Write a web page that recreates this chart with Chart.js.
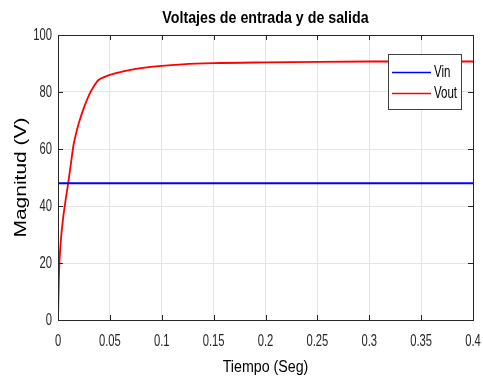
<!DOCTYPE html>
<html>
<head>
<meta charset="utf-8">
<script src="https://cdn.jsdelivr.net/npm/chart.js@4"></script>
<style>
  html, body { margin: 0; padding: 0; background: #fff; }
  #wrap { width: 483px; height: 381px; }
</style>
</head>
<body>
<div id="wrap"><canvas id="voltChart" width="483" height="381"></canvas></div>
<script>
// Vin is a constant 48 V input
const vinTime = [0, 0.4];
const vinValues = [48, 48];

// Vout
const voutTime = [0, 0.0008, 0.0015, 0.003, 0.005, 0.0075, 0.01, 0.0125, 0.015, 0.0175, 0.02,
    0.025, 0.03, 0.035, 0.039, 0.045, 0.05, 0.06, 0.07, 0.08, 0.1, 0.12, 0.15, 0.2, 0.25, 0.3, 0.35, 0.4];
const voutValues = [0, 14, 21, 29, 36, 42.5, 48.5, 55, 61.5, 65.5, 69,
    74.5, 79, 82.3, 84.2, 85.3, 86, 87, 87.8, 88.4, 89.2, 89.7, 90.1, 90.4, 90.6, 90.7, 90.7, 90.7];

const xTicks = [0, 0.05, 0.1, 0.15, 0.2, 0.25, 0.3, 0.35, 0.4];
const yTicks = [0, 20, 40, 60, 80, 100];
const seriesLabels = ['Vin', 'Vout'];
const seriesColors = ['#0000ff', '#ff0000'];

const FONT = "'Liberation Sans', Arial, sans-serif";

function toPoints(xs, ys) {
    return xs.map((x, i) => ({ x: x, y: ys[i] }));
}

// squeezed text, the original figure looks horizontally compressed
function drawText(ctx, text, x, y, font, sx, align, rot) {
    ctx.save();
    ctx.translate(x, y);
    ctx.scale(sx, 1);
    if (rot) ctx.rotate(rot);
    ctx.font = font;
    ctx.textAlign = align;
    ctx.textBaseline = 'middle';
    ctx.fillText(text, 0, 0);
    ctx.restore();
}

// Box, inward ticks, labels, title and legend in MATLAB style
const matlabLook = {
    id: 'matlabLook',
    afterDraw(chart) {
        const ctx = chart.ctx;
        const a = chart.chartArea;
        const xs = chart.scales.x, ys = chart.scales.y;
        ctx.save();
        ctx.strokeStyle = '#262626';
        ctx.lineWidth = 1;
        ctx.beginPath();
        xTicks.forEach(t => {
            const px = Math.round(xs.getPixelForValue(t)) + 0.5;
            ctx.moveTo(px, a.bottom); ctx.lineTo(px, a.bottom - 5);
            ctx.moveTo(px, a.top); ctx.lineTo(px, a.top + 5);
        });
        yTicks.forEach(t => {
            const py = Math.round(ys.getPixelForValue(t)) + 0.5;
            ctx.moveTo(a.left, py); ctx.lineTo(a.left + 5, py);
            ctx.moveTo(a.right, py); ctx.lineTo(a.right - 5, py);
        });
        ctx.stroke();
        ctx.strokeRect(Math.round(a.left) + 0.5, Math.round(a.top) + 0.5,
            Math.round(a.right - a.left), Math.round(a.bottom - a.top));

        // tick labels
        ctx.fillStyle = '#262626';
        xTicks.forEach(t => {
            drawText(ctx, String(t), xs.getPixelForValue(t), a.bottom + 21, '17px ' + FONT, 0.66, 'center');
        });
        yTicks.forEach(t => {
            drawText(ctx, String(t), a.left - 6, ys.getPixelForValue(t), '17px ' + FONT, 0.66, 'right');
        });

        // titles
        ctx.fillStyle = '#000';
        const cx = (a.left + a.right) / 2;
        drawText(ctx, 'Voltajes de entrada y de salida', cx, 19, 'bold 16px ' + FONT, 0.89, 'center');
        drawText(ctx, 'Tiempo (Seg)', cx, 368, '16px ' + FONT, 0.89, 'center');
        drawText(ctx, 'Magnitud (V)', 21, (a.top + a.bottom) / 2, '21px ' + FONT, 0.78, 'center', -Math.PI / 2);

        // legend
        const lx = 388, ly = 54, lw = 73, lh = 55;
        ctx.fillStyle = '#fff';
        ctx.fillRect(lx, ly, lw, lh);
        ctx.strokeStyle = '#404040';
        ctx.strokeRect(lx + 0.5, ly + 0.5, lw, lh);
        seriesLabels.forEach((label, i) => {
            const y = ly + 18 + i * 21;
            ctx.strokeStyle = seriesColors[i];
            ctx.lineWidth = 1.3;
            ctx.beginPath();
            ctx.moveTo(lx + 4, y + 0.5); ctx.lineTo(lx + 43, y + 0.5);
            ctx.stroke();
            ctx.fillStyle = '#000';
            drawText(ctx, label, lx + 46, y + 1, '16px ' + FONT, 0.72, 'left');
        });
        ctx.restore();
    }
};

const ctxVolt = document.getElementById('voltChart').getContext('2d');
new Chart(ctxVolt, {
    type: 'scatter',
    data: {
        datasets: [{
            label: seriesLabels[0],
            data: toPoints(vinTime, vinValues),
            showLine: true,
            borderColor: seriesColors[0],
            borderWidth: 2,
            pointRadius: 0,
            tension: 0
        }, {
            label: seriesLabels[1],
            data: toPoints(voutTime, voutValues),
            showLine: true,
            borderColor: seriesColors[1],
            borderWidth: 1.8,
            pointRadius: 0,
            cubicInterpolationMode: 'monotone'
        }]
    },
    options: {
        responsive: false,
        animation: false,
        layout: { padding: { top: 35, right: 10, left: 0, bottom: 0 } },
        plugins: {
            legend: { display: false },
            title: { display: false },
            tooltip: { enabled: false }
        },
        scales: {
            x: {
                type: 'linear',
                min: 0, max: 0.4,
                afterFit: scale => { scale.height = 61; },
                afterBuildTicks: scale => { scale.ticks = xTicks.map(v => ({ value: v })); },
                ticks: { display: false },
                grid: { color: '#e5e5e5', drawTicks: false },
                border: { display: false }
            },
            y: {
                min: 0, max: 100,
                afterFit: scale => { scale.width = 58; },
                afterBuildTicks: scale => { scale.ticks = yTicks.map(v => ({ value: v })); },
                ticks: { display: false },
                grid: { color: '#e5e5e5', drawTicks: false },
                border: { display: false }
            }
        }
    },
    plugins: [matlabLook]
});
</script>
</body>
</html>
